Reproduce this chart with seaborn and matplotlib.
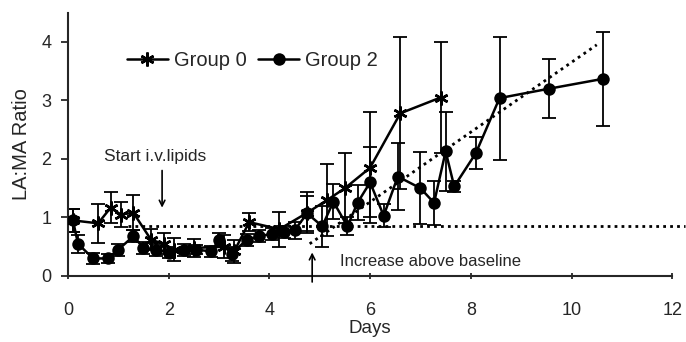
import numpy as np
import matplotlib
matplotlib.use("Agg")
import matplotlib.pyplot as plt
import seaborn as sns
import pandas as pd

# Group 0 (asterisk markers)
days_g0 = [0.1, 0.6, 0.85, 1.05, 1.3, 1.65, 1.9, 2.1, 2.5, 3.1, 3.3, 3.6, 4.2, 4.75, 5.15, 5.5, 6.0, 6.6, 7.4]
ratio_g0 = [0.95, 0.9, 1.17, 1.05, 1.08, 0.62, 0.55, 0.45, 0.48, 0.5, 0.42, 0.92, 0.8, 1.08, 1.3, 1.5, 1.85, 2.78, 3.05]
err_g0 = [0.2, 0.33, 0.27, 0.22, 0.3, 0.18, 0.18, 0.2, 0.15, 0.2, 0.2, 0.15, 0.3, 0.35, 0.62, 0.6, 0.95, 1.3, 0.95]

# Group 2 (filled circles)
days_g2 = [0.1, 0.2, 0.5, 0.8, 1.0, 1.3, 1.5, 1.75, 2.0, 2.3, 2.55, 2.85, 3.0, 3.25, 3.55,
           3.8, 4.05, 4.3, 4.5, 4.75, 5.05, 5.27, 5.55, 5.75, 6.0, 6.27, 6.55, 7.0, 7.27, 7.5,
           7.67, 8.1, 8.57, 9.55, 10.63]
ratio_g2 = [0.95, 0.55, 0.3, 0.3, 0.45, 0.68, 0.48, 0.45, 0.4, 0.45, 0.45, 0.42, 0.62, 0.38, 0.62,
            0.68, 0.72, 0.75, 0.78, 1.07, 0.85, 1.27, 0.85, 1.25, 1.6, 1.03, 1.7, 1.5, 1.25, 2.13,
            1.53, 2.1, 3.04, 3.2, 3.37]
err_g2 = [0.2, 0.15, 0.1, 0.08, 0.1, 0.1, 0.1, 0.1, 0.1, 0.1, 0.08, 0.1, 0.12, 0.12, 0.1,
          0.1, 0.1, 0.1, 0.15, 0.3, 0.35, 0.3, 0.15, 0.3, 0.6, 0.2, 0.57, 0.62, 0.38, 0.67,
          0.1, 0.28, 1.05, 0.5, 0.8]

# reference lines
baseline = 0.85
baseline_days = [1.2, 12.25]
trend_days = [4.8, 10.5]
trend_vals = [0.55, 3.95]

sns.set_style("ticks")
plt.rcParams['font.family'] = ['Liberation Sans', 'DejaVu Sans']

fig, ax = plt.subplots(figsize=(6.86, 3.42), dpi=100)
fig.subplots_adjust(left=0.099, right=0.98, bottom=0.193, top=0.963)

df0 = pd.DataFrame({"Days": days_g0, "Ratio": ratio_g0})
df2 = pd.DataFrame({"Days": days_g2, "Ratio": ratio_g2})

# error bars first
ax.errorbar(days_g0, ratio_g0, yerr=err_g0, fmt='none', ecolor='black', elinewidth=1.3, capsize=5, capthick=1.3, zorder=2)
ax.errorbar(days_g2, ratio_g2, yerr=err_g2, fmt='none', ecolor='black', elinewidth=1.3, capsize=5, capthick=1.3, zorder=2)

# dotted reference lines
ax.plot(baseline_days, [baseline, baseline], color='black', linestyle=(0, (1, 1.5)), linewidth=2, clip_on=False, zorder=1)
ax.plot(trend_days, trend_vals, color='black', linestyle=(0, (1, 1.5)), linewidth=2, zorder=1)

sns.lineplot(data=df0, x="Days", y="Ratio", ax=ax, color='black', marker=(6, 2, 0), markersize=10,
             markeredgewidth=1.8, markeredgecolor='black', linewidth=1.8, label='Group 0', zorder=3)
sns.lineplot(data=df2, x="Days", y="Ratio", ax=ax, color='black', marker='o', markersize=9,
             markeredgewidth=0, markeredgecolor='black', linewidth=1.8, label='Group 2', zorder=3)

ax.set_xlim(0, 12)
ax.set_ylim(0, 4.5)
ax.set_xticks([0, 2, 4, 6, 8, 10, 12])
ax.set_yticks([0, 1, 2, 3, 4])
ax.tick_params(axis='both', labelsize=13, width=1.3, length=5)
ax.tick_params(axis='x', direction='inout', pad=16)
ax.tick_params(axis='y', pad=7)
ax.set_xlabel('Days', fontsize=13.5, labelpad=1)
ax.set_ylabel('LA:MA Ratio', fontsize=14.5, labelpad=7)
for s in ['left', 'bottom']:
    ax.spines[s].set_linewidth(1.5)
sns.despine(ax=ax)

ax.legend(loc='center left', bbox_to_anchor=(0.085, 0.82), ncol=2, frameon=False, fontsize=14.5,
          handlelength=2.0, handletextpad=0.3, columnspacing=0.6, borderaxespad=0)

# annotations
ax.text(0.72, 2.05, 'Start i.v.lipids', fontsize=12.5, va='center', ha='left')
ax.annotate('', xy=(1.87, 1.12), xytext=(1.87, 1.85),
            arrowprops=dict(arrowstyle='->', color='black', lw=1.2))
ax.text(5.4, 0.24, 'Increase above baseline', fontsize=12, va='center', ha='left')
ax.annotate('', xy=(4.85, 0.45), xytext=(4.85, -0.15),
            arrowprops=dict(arrowstyle='->', color='black', lw=1.2), annotation_clip=False)

fig.savefig('out.png', dpi=100)
